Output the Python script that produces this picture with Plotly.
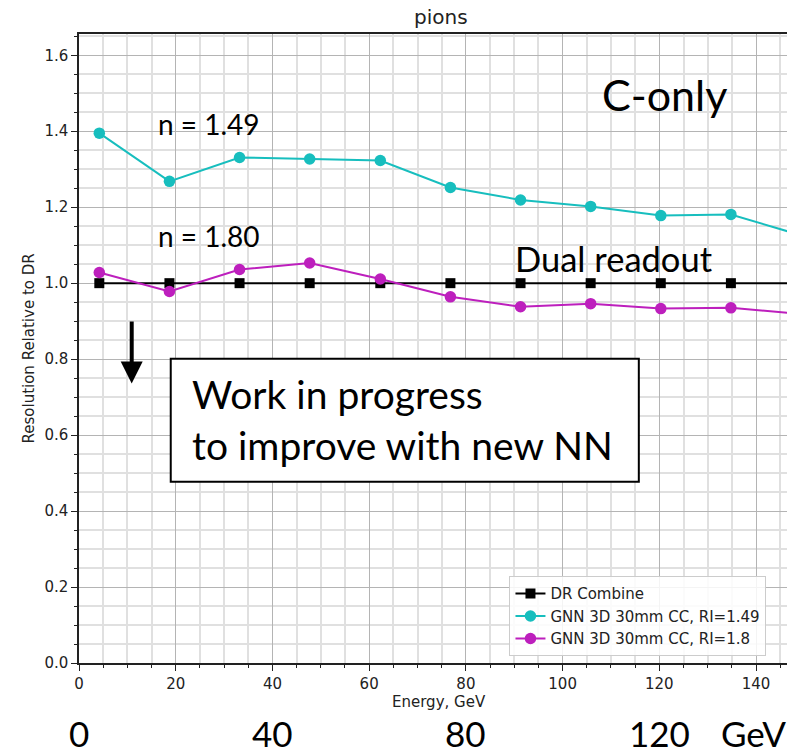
import plotly.graph_objects as go

# Beam energies (GeV) and resolution relative to dual-readout
energy = [4.2, 18.7, 33.2, 47.7, 62.3, 76.8, 91.3, 105.8, 120.3, 134.8, 149.3]
dr_combine = [1.0, 1.0, 1.0, 1.0, 1.0, 1.0, 1.0, 1.0, 1.0, 1.0, 1.0]
gnn_ri149 = [1.395, 1.268, 1.331, 1.327, 1.323, 1.252, 1.219, 1.202, 1.178, 1.181, 1.126]
gnn_ri18 = [1.028, 0.978, 1.036, 1.053, 1.011, 0.964, 0.938, 0.946, 0.933, 0.935, 0.919]

series_names = ["DR Combine", "GNN 3D 30mm CC, RI=1.49", "GNN 3D 30mm CC, RI=1.8"]
bottom_ticks = [0, 40, 80, 120]

AX_FONT = "DejaVu Sans"
TXT_FONT = "Lato"
CYAN = "#17bebe"
MAGENTA = "#bd1fbd"

fig = go.Figure()
fig.add_trace(go.Scatter(
    x=energy, y=dr_combine, name=series_names[0], mode="lines+markers",
    line=dict(color="black", width=2),
    marker=dict(symbol="square", size=10, color="black"),
))
fig.add_trace(go.Scatter(
    x=energy, y=gnn_ri149, name=series_names[1], mode="lines+markers",
    line=dict(color=CYAN, width=2),
    marker=dict(symbol="circle", size=11.5, color=CYAN),
))
fig.add_trace(go.Scatter(
    x=energy, y=gnn_ri18, name=series_names[2], mode="lines+markers",
    line=dict(color=MAGENTA, width=2),
    marker=dict(symbol="circle", size=11.5, color=MAGENTA),
))

axis_common = dict(
    showline=True, linecolor="#222", linewidth=1.5,
    ticks="outside", ticklen=6, tickwidth=1.2, tickcolor="#222",
    showgrid=True, gridcolor="#b4b4b4", gridwidth=1.2,
    zeroline=False,
    tickfont=dict(family=AX_FONT, size=15, color="#222"),
)

fig.update_xaxes(
    range=[0, 146.4], dtick=20, tick0=0,
    mirror=True,
    minor=dict(dtick=5, ticks="outside", ticklen=3.5, tickcolor="#222",
               showgrid=True, gridcolor="#e0e0e0", gridwidth=1.5),
    **axis_common,
)
fig.update_yaxes(
    range=[0, 1.656], dtick=0.2, tick0=0, tickformat=".1f",
    minor=dict(dtick=0.05, ticks="outside", ticklen=3.5, tickcolor="#222",
               showgrid=True, gridcolor="#e0e0e0", gridwidth=1.5),
    **axis_common,
)

annotations = [
    dict(text="pions", xref="paper", yref="paper", x=0.512, y=1.0, yshift=17,
         xanchor="center", yanchor="middle", showarrow=False,
         font=dict(family=AX_FONT, size=20, color="#222")),
    dict(text="Energy, GeV", xref="paper", yref="paper", x=0.509, y=0, yshift=-39,
         xanchor="center", yanchor="middle", showarrow=False,
         font=dict(family=AX_FONT, size=15, color="#222")),
    dict(text="Resolution Relative to DR", xref="paper", yref="paper", x=0, xshift=-51,
         y=0.5, xanchor="center", yanchor="middle", textangle=-90, showarrow=False,
         font=dict(family=AX_FONT, size=15, color="#222")),
    dict(text="C-only", x=107.8, y=1.497, xanchor="left", yanchor="middle",
         showarrow=False, font=dict(family=TXT_FONT, size=43, color="black")),
    dict(text="n = 1.49", x=16.0, y=1.42, xanchor="left", yanchor="middle",
         showarrow=False, font=dict(family=TXT_FONT, size=28, color="black")),
    dict(text="n = 1.80", x=16.0, y=1.123, xanchor="left", yanchor="middle",
         showarrow=False, font=dict(family=TXT_FONT, size=28, color="black")),
    dict(text="Dual readout", x=89.8, y=1.066, xanchor="left", yanchor="middle",
         showarrow=False, font=dict(family=TXT_FONT, size=34.5, color="black")),
    dict(text="Work in progress<br>to improve with new NN", x=23.0, y=0.642,
         xanchor="left", yanchor="middle", align="left", showarrow=False,
         font=dict(family=TXT_FONT, size=39, color="black")),
    # downward arrow
    dict(x=10.9, y=0.736, ax=10.9, ay=0.903, axref="x", ayref="y",
         xref="x", yref="y", text="", showarrow=True,
         arrowhead=2, arrowsize=1.1, arrowwidth=4, arrowcolor="black"),
]
# large energy labels along the bottom edge of the figure
for t in bottom_ticks:
    annotations.append(dict(
        text=str(t), x=t, xref="x", yref="paper", y=0, yshift=-93.3,
        xanchor="center", yanchor="bottom",
        showarrow=False, font=dict(family=TXT_FONT, size=35, color="black")))
annotations.append(dict(
    text="GeV", x=132.3, xref="x", yref="paper", y=0, yshift=-93.3,
    xanchor="left", yanchor="bottom",
    showarrow=False, font=dict(family=TXT_FONT, size=35, color="black")))

fig.update_layout(
    width=787, height=756,
    margin=dict(l=79, r=0, t=34, b=93),
    paper_bgcolor="white", plot_bgcolor="white",
    showlegend=True,
    legend=dict(
        x=0.608, y=0.138, xanchor="left", yanchor="top",
        bgcolor="rgba(255,255,255,0.85)", bordercolor="#cccccc", borderwidth=1,
        font=dict(family=AX_FONT, size=15, color="#222"),
        tracegroupgap=0, itemwidth=30,
    ),
    annotations=annotations,
    shapes=[dict(type="rect", xref="x", yref="y", x0=18.97, x1=115.76,
                 y0=0.477, y1=0.801, line=dict(color="black", width=2),
                 fillcolor="white", layer="above")],
)

fig.write_html("out.html")
